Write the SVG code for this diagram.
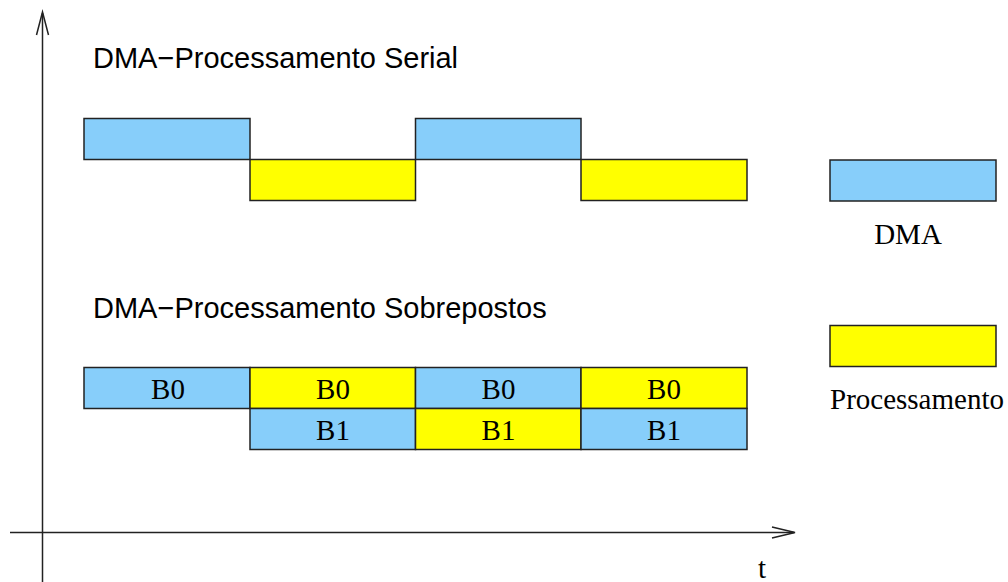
<svg xmlns="http://www.w3.org/2000/svg" width="1008" height="582" viewBox="0 0 1008 582">
<style>
.dma{fill:#87cefa;stroke:#222;stroke-width:1.5}
.proc{fill:#ffff00;stroke:#222;stroke-width:1.5}
.title{font-family:"Liberation Sans",Arial,sans-serif;font-size:29px;fill:#000}
.lbl{font-family:"Liberation Serif","Times New Roman",serif;font-size:29px;fill:#000}
.axis{stroke:#222;stroke-width:1.5;fill:none}
</style>
<rect width="1008" height="582" fill="#fff"/>
<g id="connectors">
<line class="axis" x1="42.5" y1="582" x2="42.5" y2="13"/>
<polyline class="axis" points="36.5,35 42.5,12 48.5,35"/>
<line class="axis" x1="10" y1="532.5" x2="794" y2="532.5"/>
<polyline class="axis" points="772,527 795,532.5 772,538"/>
</g>
<g id="title-serial"><text class="title" x="93" y="68">DMA−Processamento Serial</text></g>
<g id="serial">
<rect class="dma" x="84" y="118.5" width="166" height="41"/>
<rect class="proc" x="250" y="159.5" width="165.5" height="41"/>
<rect class="dma" x="415.5" y="118.5" width="165.5" height="41"/>
<rect class="proc" x="581" y="159.5" width="166" height="41"/>
</g>
<g id="title-overlap"><text class="title" x="93" y="318">DMA−Processamento Sobrepostos</text></g>
<g id="overlap">
<rect class="dma" x="84" y="367.5" width="166" height="41"/>
<rect class="proc" x="250" y="367.5" width="165.5" height="41"/>
<rect class="dma" x="415.5" y="367.5" width="165.5" height="41"/>
<rect class="proc" x="581" y="367.5" width="166" height="41"/>
<rect class="dma" x="250" y="408.5" width="165.5" height="41"/>
<rect class="proc" x="415.5" y="408.5" width="165.5" height="41"/>
<rect class="dma" x="581" y="408.5" width="166" height="41"/>
<g text-anchor="middle">
<text class="lbl" x="168" y="399">B0</text>
<text class="lbl" x="333" y="399">B0</text>
<text class="lbl" x="498.5" y="399">B0</text>
<text class="lbl" x="664" y="399">B0</text>
<text class="lbl" x="333" y="440">B1</text>
<text class="lbl" x="498.5" y="440">B1</text>
<text class="lbl" x="664" y="440">B1</text>
</g>
</g>
<g id="legend-dma">
<rect class="dma" x="830" y="160" width="166" height="41"/>
<text class="lbl" x="908" y="244" text-anchor="middle">DMA</text>
</g>
<g id="legend-proc">
<rect class="proc" x="830" y="325.5" width="166" height="41"/>
<text class="lbl" x="830" y="409">Processamento</text>
</g>
<g id="t-label"><text class="lbl" x="762" y="578" text-anchor="middle">t</text></g>
</svg>
